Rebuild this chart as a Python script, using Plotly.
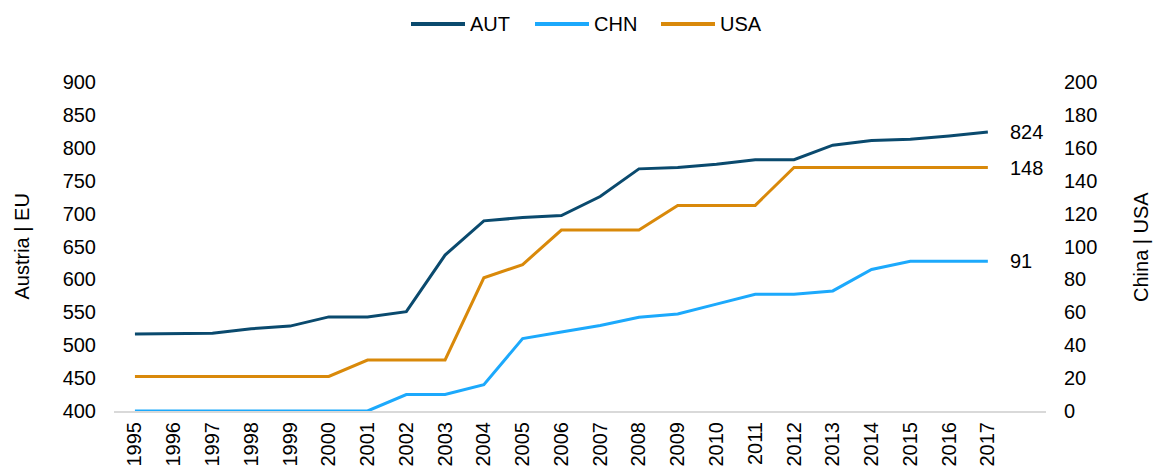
import plotly.graph_objects as go

years = list(range(1995, 2018))
aut = [517, 518, 518, 525, 529, 543, 543, 551, 637, 689, 694, 697, 726, 768, 770, 775, 782, 782, 804, 811, 813, 818, 824]
chn = [0, 0, 0, 0, 0, 0, 0, 10, 10, 16, 44, 48, 52, 57, 59, 65, 71, 71, 73, 86, 91, 91, 91]
usa = [21, 21, 21, 21, 21, 21, 31, 31, 31, 81, 89, 110, 110, 110, 125, 125, 125, 148, 148, 148, 148, 148, 148]

series_names = ["AUT", "CHN", "USA"]
colors = ["#0a4a6e", "#1ca9fc", "#d9890a"]

left_ticks = list(range(400, 901, 50))
right_ticks = list(range(0, 201, 20))

FONT = "Liberation Sans, Arial, sans-serif"
FS = 20

W, H = 1155, 471
L, R, T, B = 114, 109, 82, 60
PW, PH = W - L - R, H - T - B

def px_x(px):
    return (px - L) / PW

def px_y(py):
    return (H - B - py) / PH

fig = go.Figure()
fig.add_trace(go.Scatter(x=years, y=aut, name="AUT", mode="lines",
                         line=dict(color=colors[0], width=3), yaxis="y"))
fig.add_trace(go.Scatter(x=years, y=chn, name="CHN", mode="lines",
                         line=dict(color=colors[1], width=3), yaxis="y2"))
fig.add_trace(go.Scatter(x=years, y=usa, name="USA", mode="lines",
                         line=dict(color=colors[2], width=3), yaxis="y2"))

annotations = []
for val, yref in [(aut[-1], "y"), (usa[-1], "y2"), (chn[-1], "y2")]:
    annotations.append(dict(x=years[-1], y=val, xref="x", yref=yref, text=str(val),
                            showarrow=False, xanchor="left", yanchor="middle", xshift=20,
                            font=dict(size=FS, color="#000", family=FONT)))

# axis titles
annotations.append(dict(x=px_x(21.5), y=px_y(247), xref="paper", yref="paper",
                        text="Austria | EU", textangle=-90, showarrow=False,
                        xanchor="center", yanchor="middle", font=dict(size=FS, color="#000")))
annotations.append(dict(x=px_x(1141), y=px_y(247), xref="paper", yref="paper",
                        text="China | USA", textangle=-90, showarrow=False,
                        xanchor="center", yanchor="middle", font=dict(size=FS, color="#000")))

# custom legend
shapes = []
leg_y = px_y(24)
leg_starts = [411, 535, 661]
for name, col, x0 in zip(series_names, colors, leg_starts):
    shapes.append(dict(type="line", xref="paper", yref="paper",
                       x0=px_x(x0), x1=px_x(x0 + 54), y0=leg_y, y1=leg_y,
                       line=dict(color=col, width=4)))
    annotations.append(dict(x=px_x(x0 + 57), y=leg_y, xref="paper", yref="paper",
                            text=name, showarrow=False, xanchor="left", yanchor="middle",
                            font=dict(size=FS, color="#000")))

fig.update_layout(
    width=W, height=H,
    margin=dict(l=L, r=R, t=T, b=B, autoexpand=False),
    paper_bgcolor="white", plot_bgcolor="white",
    font=dict(family=FONT, size=FS, color="#000"),
    showlegend=False,
    xaxis=dict(range=[1994.46, 2018.5], tickmode="array", tickvals=years,
               ticktext=[str(y) for y in years], tickangle=-90, showgrid=False,
               showline=True, linecolor="#d9d9d9", linewidth=2, ticks="",
               zeroline=False, tickfont=dict(size=FS), automargin=False,
               ticklabelstandoff=1),
    yaxis=dict(range=[400, 900], tickvals=left_ticks, showgrid=False, zeroline=False,
               showline=False, ticks="", tickfont=dict(size=FS), automargin=False,
               ticklabelstandoff=17),
    yaxis2=dict(range=[0, 200], tickvals=right_ticks, overlaying="y", side="right",
                showgrid=False, zeroline=False, showline=False, ticks="",
                tickfont=dict(size=FS), automargin=False, ticklabelstandoff=17),
    annotations=annotations,
    shapes=shapes,
)

fig.write_html("out.html", config={"displayModeBar": False},
               post_script="document.body.style.margin='0';document.body.style.overflow='hidden';")
